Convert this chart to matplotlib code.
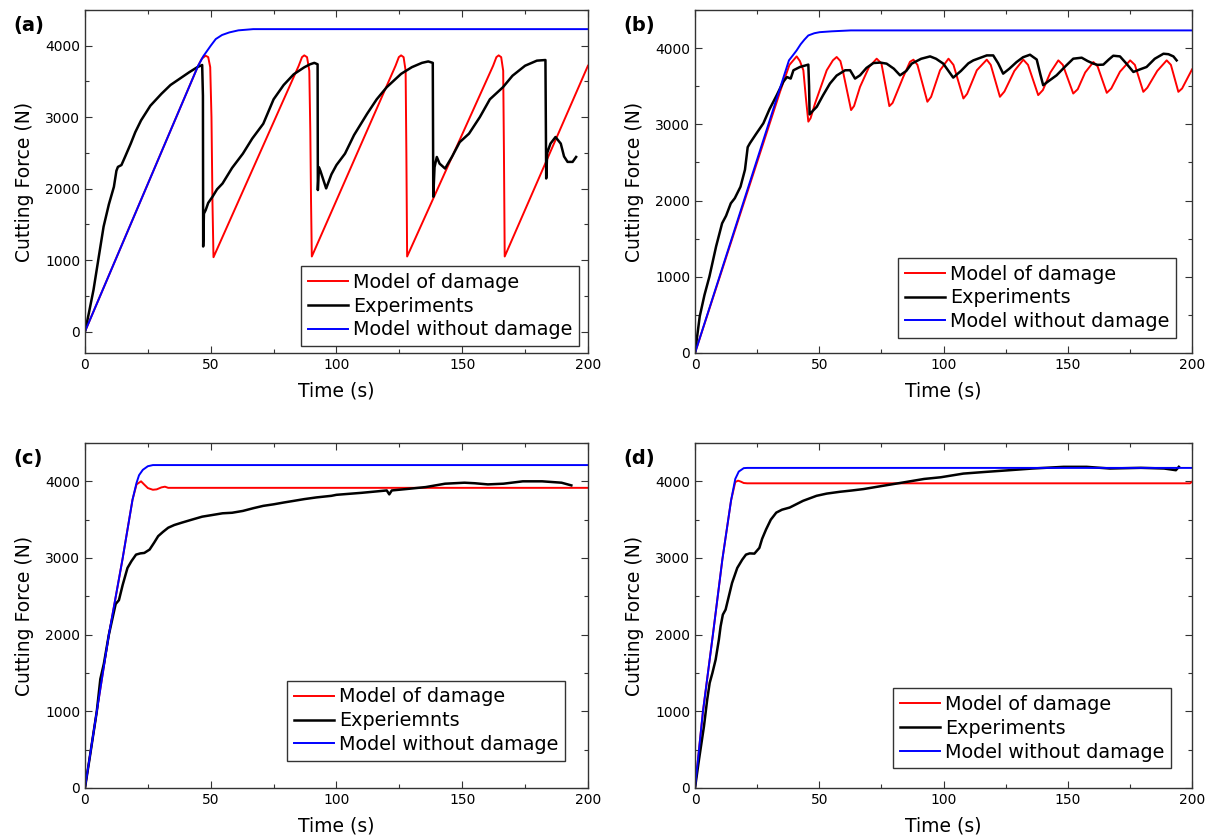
import matplotlib
matplotlib.use('Agg')
import matplotlib.pyplot as plt
from matplotlib.ticker import MultipleLocator

plt.rcParams['font.family'] = ['DejaVu Sans']

# ---- panel (a) ----
a_blue_t = [0, 45, 47, 48.6, 50, 52, 54.5, 57.4, 61, 66.9, 200]
a_blue_f = [0, 3720, 3850, 3930, 4000, 4093, 4150, 4186, 4215, 4232, 4232]

a_red_t = [0, 45, 46.5, 48, 49, 49.8, 50.3, 50.7, 51.1,
           85, 86.3, 87.2, 88.3, 89.2, 89.6, 89.9, 90.2,
           123.5, 124.8, 125.7, 126.7, 127.5, 127.8, 128.1,
           162.3, 163.6, 164.5, 165.5, 166.3, 166.6, 166.9, 200]
a_red_f = [0, 3720, 3820, 3860, 3840, 3700, 3000, 1800, 1040,
           3720, 3840, 3865, 3840, 3650, 2800, 1800, 1050,
           3720, 3840, 3865, 3840, 3650, 2500, 1050,
           3720, 3840, 3865, 3840, 3650, 2500, 1050, 3720]

a_exp_t = [0, 1.5, 3.4, 5.5, 7.4, 9.5, 11.5, 12.5, 13.1, 14.5, 16, 18.2, 20, 22.3, 26,
           30.4, 34, 38.5, 41.5, 44.6, 46.6, 46.9, 47.0, 47.3, 48.0, 49.0, 50.7, 52.5,
           54.7, 58.5, 62.8, 66.5, 70.9, 75, 79, 83, 87.2, 89.5, 91.2, 92.5, 92.6, 93.0,
           93.6, 95.9, 98, 100, 103.4, 107, 112.2, 116, 120, 125.7, 130, 134, 136.5,
           138.3, 138.5, 139.0, 139.9, 141, 143.2, 146, 149, 152.7, 157, 161, 166.2,
           170, 175, 179.7, 183.1, 183.4, 183.8, 185.1, 187.1, 189.2, 190.5, 191.9,
           193.9, 195.3]
a_exp_f = [0, 250, 585, 1050, 1468, 1780, 2025, 2250, 2304, 2330, 2450, 2630, 2790, 2955, 3160,
           3327, 3450, 3558, 3630, 3698, 3730, 3300, 1190, 1650, 1700, 1800, 1886, 1990,
           2072, 2290, 2490, 2700, 2908, 3250, 3450, 3600, 3698, 3740, 3760, 3740, 1980, 2300,
           2250, 2003, 2200, 2330, 2490, 2750, 3048, 3250, 3420, 3606, 3700, 3760, 3780,
           3760, 1886, 2300, 2443, 2350, 2281, 2450, 2650, 2769, 3000, 3250, 3419,
           3580, 3720, 3791, 3800, 2142, 2500, 2630, 2722, 2630, 2450, 2374,
           2374, 2443]

# ---- panel (b) ----
b_blue_t = [0, 37.8, 39.5, 40.9, 42.5, 44, 45.6, 48, 50.2, 55, 62.7, 200]
b_blue_f = [0, 3839, 3910, 3970, 4050, 4110, 4166, 4195, 4209, 4220, 4232, 4232]

b_red_t = [0, 34.2, 38, 40.9, 42.2, 43.6, 44.6, 45.6, 46.5, 48.3, 53, 55.5, 57, 58.5, 59.5,
           62.8, 64, 66.4, 70, 73.1, 75, 78.2, 79.5, 83.8, 86.5, 87.9, 89.5, 93.5, 95,
           98.6, 102, 104, 108, 109.5, 113.4, 117.4, 119, 122.7, 124.5, 128.5, 132.1,
           134, 138.1, 140, 143, 146.2, 148, 152.2, 154, 157, 160.3, 162, 165.7, 167.5,
           171, 175.1, 177, 180.4, 182, 186, 189.8, 191.5, 194.5, 196, 200]
b_red_f = [0, 3426, 3780, 3891, 3830, 3709, 3350, 3035, 3080, 3274, 3709, 3840, 3883, 3830, 3700,
           3187, 3240, 3491, 3750, 3861, 3800, 3239, 3280, 3622, 3820, 3848, 3780, 3296, 3360,
           3709, 3861, 3780, 3339, 3400, 3709, 3848, 3780, 3361, 3430, 3700, 3848,
           3780, 3383, 3450, 3680, 3839, 3780, 3404, 3460, 3680, 3817, 3760, 3413, 3470,
           3690, 3839, 3780, 3426, 3480, 3700, 3839, 3780, 3426, 3470, 3720]

b_exp_t = [0, 1.9, 3.8, 5.8, 8.5, 10.9, 12.5, 14.4, 16, 18.3, 20.1, 21.2, 22.1, 24.5, 27.5, 30,
           32.9, 35.5, 37, 38.5, 39.6, 42.2, 45.6, 45.9, 46.1, 47.5, 49, 51.5, 54.3, 57, 60.4,
           62.4, 64.4, 66.4, 69, 71.8, 74.5, 77.1, 80, 82.5, 85, 87.2, 91, 94.6, 97, 99.9,
           102, 103.9, 107, 110, 112, 117.4, 120, 122, 124, 126.5, 129.4, 132, 134.8,
           137.5, 139, 140.1, 142, 145.5, 149, 152.2, 155.6, 158, 160.3, 162, 164.3,
           166.5, 168.3, 171, 173.5, 176.4, 179, 181.7, 185, 188.5, 190.5, 192.5, 193.8]
b_exp_f = [0, 480, 760, 1003, 1400, 1701, 1800, 1963, 2030, 2181, 2404, 2700, 2752, 2870, 3013, 3200,
           3383, 3557, 3620, 3600, 3709, 3752, 3783, 3500, 3130, 3180, 3230, 3380, 3535, 3640, 3709,
           3710, 3600, 3643, 3740, 3804, 3810, 3796, 3730, 3643, 3700, 3796, 3860, 3891, 3860, 3796,
           3700, 3613, 3700, 3800, 3839, 3904, 3904, 3800, 3665, 3730, 3817, 3880, 3913,
           3850, 3650, 3513, 3560, 3643, 3760, 3861, 3874, 3830, 3796, 3780, 3783,
           3850, 3900, 3891, 3800, 3687, 3720, 3752, 3860, 3926, 3920, 3891, 3839]

# ---- panel (c) ----
c_blue_t = [0, 4.7, 9.5, 14.9, 18.9, 20.5, 21.5, 23, 25, 27, 200]
c_blue_f = [0, 1000, 2000, 2980, 3760, 3980, 4080, 4150, 4197, 4212, 4212]

c_red_t = [0, 4.7, 9.5, 14.9, 18.9, 20.5, 22.3, 23.5, 25, 27, 28.5, 30.4, 31.8, 33.1, 200]
c_red_f = [0, 1000, 2000, 2980, 3760, 3960, 4000, 3960, 3912, 3890, 3895, 3921, 3930, 3915, 3915]

c_exp_t = [0, 2, 4.7, 6.1, 7.5, 9.5, 12.2, 13.5, 15, 16.9, 18.5, 20.3, 22, 23.6, 25.7, 27.5,
           29.1, 31, 33.1, 35.5, 38.5, 42.5, 46.6, 50.5, 54.7, 58.5, 62.8, 67, 70.9, 75,
           79.1, 83, 87.2, 92, 98, 100, 110, 120, 121, 122, 128, 135.5, 143.2, 150.9,
           155, 160.2, 166.4, 174.1, 181.8, 189.5, 193.4]
c_exp_f = [0, 420, 1000, 1420, 1620, 2000, 2400, 2450, 2650, 2870, 2960, 3044, 3060, 3066, 3110, 3200,
           3285, 3340, 3395, 3430, 3461, 3500, 3539, 3560, 3583, 3590, 3614, 3650, 3680, 3700,
           3724, 3745, 3768, 3790, 3811, 3824, 3850, 3881, 3830, 3881, 3900, 3925, 3969, 3982,
           3975, 3960, 3969, 4000, 4000, 3982, 3947]

# ---- panel (d) ----
d_blue_t = [0, 3.2, 7.2, 11, 14.5, 16.2, 17.6, 19.6, 21, 200]
d_blue_f = [0, 1000, 2000, 2980, 3750, 4031, 4127, 4172, 4175, 4175]

d_red_t = [0, 3.2, 7.2, 11, 14.5, 16.2, 17.3, 18.5, 19.6, 21, 199.2, 200]
d_red_f = [0, 1000, 2000, 2980, 3750, 3990, 4009, 3995, 3978, 3974, 3974, 3995]

d_exp_t = [0, 1.6, 3.6, 4.9, 5.9, 7, 8.3, 9.6, 10.3, 11.2, 12.3, 13.6, 14.9, 17, 19, 20.5, 22,
           23.9, 25.9, 27, 28.6, 30.5, 32.7, 35, 38.1, 43.5, 48.9, 53, 58.4, 63, 67.8, 75.9,
           84.1, 92.2, 98.9, 108, 117, 126.5, 135.8, 148.3, 157.6, 167, 179.4, 188.8,
           193.5, 194.7]
d_exp_f = [0, 370, 804, 1152, 1370, 1500, 1674, 1935, 2109, 2261, 2326, 2500, 2674, 2870, 2978, 3044, 3060,
           3057, 3132, 3250, 3373, 3500, 3592, 3630, 3658, 3746, 3811, 3840, 3864, 3880, 3899, 3943,
           3987, 4031, 4053, 4101, 4123, 4145, 4167, 4189, 4189, 4167, 4176, 4167,
           4145, 4189]

panels = [
    ('(a)', [0.0700, 0.5793, 0.4143, 0.4088], (-300, 4500),
     a_red_t, a_red_f, a_exp_t, a_exp_f, a_blue_t, a_blue_f, 'Experiments', (0.982, 0.020)),
    ('(b)', [0.5725, 0.5793, 0.4094, 0.4088], (0, 4500),
     b_red_t, b_red_f, b_exp_t, b_exp_f, b_blue_t, b_blue_f, 'Experiments', (0.968, 0.044)),
    ('(c)', [0.0700, 0.0608, 0.4143, 0.4112], (0, 4500),
     c_red_t, c_red_f, c_exp_t, c_exp_f, c_blue_t, c_blue_f, 'Experiemnts', (0.954, 0.079)),
    ('(d)', [0.5725, 0.0608, 0.4094, 0.4112], (0, 4500),
     d_red_t, d_red_f, d_exp_t, d_exp_f, d_blue_t, d_blue_f, 'Experiments', (0.958, 0.057)),
]

fig = plt.figure(figsize=(12.14, 8.39), dpi=100)

for tag, pos, ylim, rt, rf, et, ef, bt, bf, exp_name, leg_pos in panels:
    ax = fig.add_axes(pos)
    ax.plot(rt, rf, color='#ff0000', lw=1.4, label='Model of damage')
    ax.plot(et, ef, color='black', lw=1.8, label=exp_name)
    ax.plot(bt, bf, color='#0000ff', lw=1.4, label='Model without damage')

    ax.set_xlim(0, 200)
    ax.set_ylim(*ylim)
    ax.xaxis.set_major_locator(MultipleLocator(50))
    ax.xaxis.set_minor_locator(MultipleLocator(25))
    ax.yaxis.set_major_locator(MultipleLocator(1000))
    ax.yaxis.set_minor_locator(MultipleLocator(500))
    ax.tick_params(which='both', direction='in', top=True, right=True,
                   labelsize=10, color='#333333', width=0.8)
    ax.tick_params(which='major', length=5)
    ax.tick_params(which='minor', length=3)
    for s in ax.spines.values():
        s.set_color('#333333')
        s.set_linewidth(1.0)

    ax.set_xlabel('Time (s)', fontsize=13.5, labelpad=7)
    ax.set_ylabel('Cutting Force (N)', fontsize=13.5, labelpad=8)

    leg = ax.legend(loc='lower right', bbox_to_anchor=leg_pos, borderaxespad=0,
                    fontsize=13.8, handlelength=2.1, handletextpad=0.25,
                    labelspacing=0.25, borderpad=0.35, fancybox=False,
                    framealpha=1, edgecolor='#333333')
    leg.get_frame().set_linewidth(1.0)

    fig.text(pos[0] - 0.059, pos[1] + pos[3] - 0.019, tag, fontsize=14,
             fontweight='bold', va='center', ha='left')

fig.savefig('out.png', dpi=100)
